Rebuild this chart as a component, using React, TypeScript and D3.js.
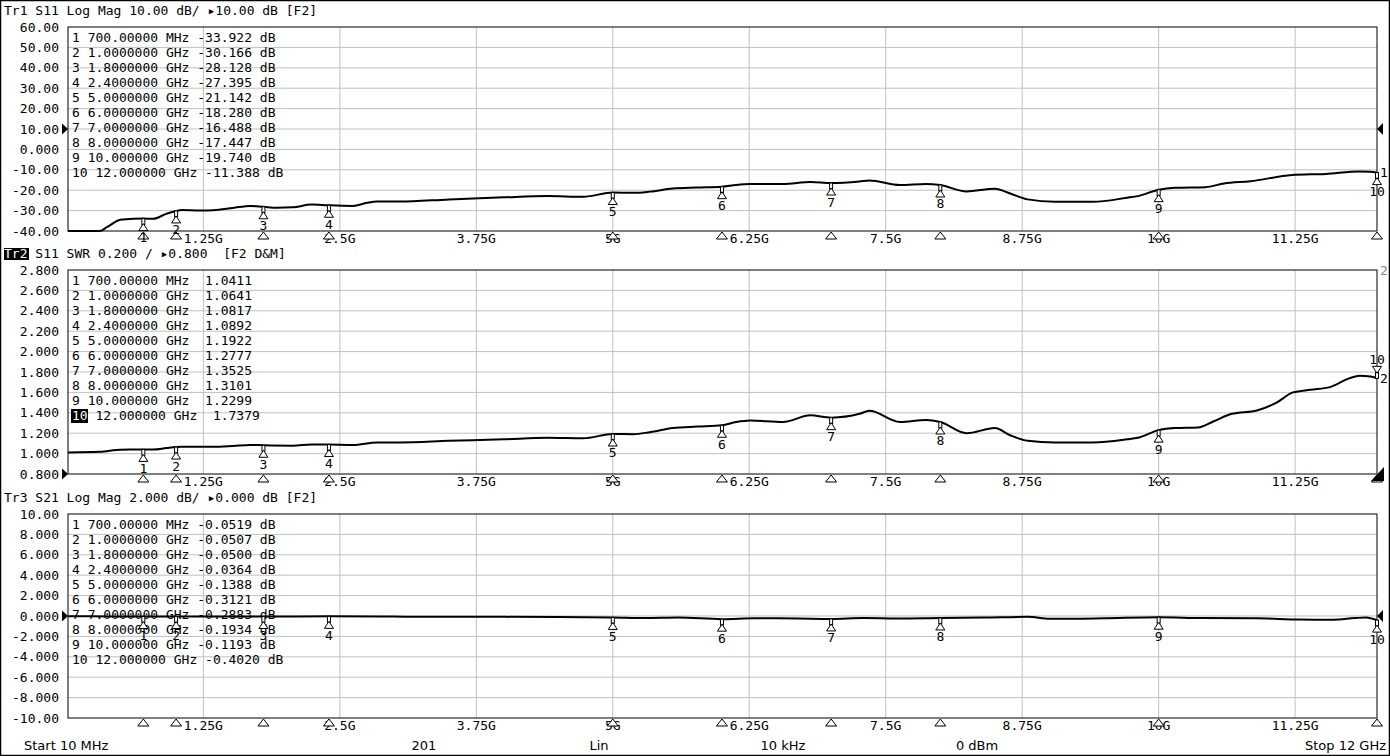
import React from 'react';
import * as d3 from 'd3';

const W = 1390;
const H = 756;
const MONO = '"DejaVu Sans Mono", monospace';
const SANS = '"DejaVu Sans", sans-serif';

// ---- axis / tick data ----
const xTickValues = [1.25, 2.5, 3.75, 5, 6.25, 7.5, 8.75, 10, 11.25];
const xTickLabels = ['1.25G', '2.5G', '3.75G', '5G', '6.25G', '7.5G', '8.75G', '10G', '11.25G'];
const tr1YLabels = ['60.00', '50.00', '40.00', '30.00', '20.00', '10.00', '0.000', '-10.00', '-20.00', '-30.00', '-40.00'];
const tr2YLabels = ['2.800', '2.600', '2.400', '2.200', '2.000', '1.800', '1.600', '1.400', '1.200', '1.000', '0.800'];
const tr3YLabels = ['10.00', '8.000', '6.000', '4.000', '2.000', '0.000', '-2.000', '-4.000', '-6.000', '-8.000', '-10.00'];

// ---- markers ----
const markerFreqGHz = [0.7, 1, 1.8, 2.4, 5, 6, 7, 8, 10, 12];
const markerFreqText = ['700.00000 MHz', '1.0000000 GHz', '1.8000000 GHz', '2.4000000 GHz', '5.0000000 GHz',
  '6.0000000 GHz', '7.0000000 GHz', '8.0000000 GHz', '10.000000 GHz', '12.000000 GHz'];
const markerS11dB = [-33.922, -30.166, -28.128, -27.395, -21.142, -18.28, -16.488, -17.447, -19.74, -11.388];
const markerSWR = [1.0411, 1.0641, 1.0817, 1.0892, 1.1922, 1.2777, 1.3525, 1.3101, 1.2299, 1.7379];
const markerS21dB = [-0.0519, -0.0507, -0.05, -0.0364, -0.1388, -0.3121, -0.2883, -0.1934, -0.1193, -0.402];

// ---- traces ----
const s11Freq = [0.01, 0.30, 0.37, 0.49, 0.61, 0.70, 0.79, 0.91, 1.00, 1.05, 1.22, 1.34, 1.52, 1.68, 1.80, 1.92, 2.07, 2.24, 2.40, 2.62,
  2.75, 2.84, 3.05, 3.50, 4.00, 4.40, 4.73, 5.00, 5.19, 5.34, 5.55, 5.77, 6.00, 6.13, 6.26, 6.56, 6.81, 7.00, 7.26, 7.35,
  7.63, 7.87, 8.00, 8.24, 8.50, 8.64, 8.80, 9.05, 9.40, 9.71, 9.81, 10.00, 10.15, 10.43, 10.60, 10.84, 11.22, 11.53, 11.84, 11.94, 12.00];
const s11dB = [-40, -40, -38, -34.5, -34, -33.92, -34, -31.6, -30.17, -29.7, -30, -29.8, -28.7, -27.7, -28.13, -28.6, -28.4, -27, -27.4, -27.7,
  -26.2, -25.6, -25.6, -24.5, -23.5, -22.9, -23.2, -21.14, -21.3, -20.7, -19.2, -18.7, -18.28, -17.4, -17, -17, -16, -16.49, -15.7, -15.2,
  -17.4, -16.9, -17.45, -20.6, -19.3, -21.6, -24.5, -25.7, -25.7, -23.7, -22.9, -19.74, -18.8, -18.5, -16.7, -15.6, -12.6, -12.0, -10.8, -10.9, -11.39];

const swrFreq = [0.01, 0.30, 0.49, 0.61, 0.70, 0.79, 0.91, 1.00, 1.05, 1.34, 1.52, 1.68, 1.80, 2.07, 2.24, 2.40, 2.62, 2.84, 3.05, 3.50,
  4.00, 4.40, 4.73, 5.00, 5.19, 5.34, 5.55, 5.77, 6.00, 6.13, 6.26, 6.56, 6.81, 7.00, 7.26, 7.35, 7.63, 7.87, 8.00, 8.24,
  8.50, 8.64, 8.80, 9.05, 9.40, 9.71, 9.81, 10.00, 10.15, 10.36, 10.50, 10.67, 10.90, 11.08, 11.23, 11.39, 11.57, 11.75, 11.84, 11.94, 12.00];
const swrValues = [1.012, 1.018, 1.038, 1.040, 1.0411, 1.040, 1.054, 1.0641, 1.067, 1.067, 1.075, 1.085, 1.0817, 1.078, 1.09, 1.0892, 1.085, 1.11, 1.11, 1.125,
  1.14, 1.155, 1.15, 1.1922, 1.19, 1.21, 1.25, 1.265, 1.2777, 1.31, 1.325, 1.31, 1.375, 1.3525, 1.39, 1.42, 1.31, 1.33, 1.3101, 1.20,
  1.25, 1.18, 1.125, 1.11, 1.11, 1.14, 1.155, 1.2299, 1.25, 1.256, 1.315, 1.39, 1.423, 1.50, 1.60, 1.626, 1.652, 1.74, 1.764, 1.757, 1.7379];

const s21Freq = [0.01, 0.40, 0.70, 1.00, 1.50, 1.80, 2.40, 3.00, 3.80, 4.50, 5.00, 5.30, 5.60, 6.00, 6.30, 6.70, 7.00, 7.30, 7.60, 8.00,
  8.40, 8.80, 9.00, 9.50, 10.00, 10.40, 10.90, 11.30, 11.60, 11.80, 11.90, 12.00];
const s21dB = [-0.02, -0.04, -0.052, -0.051, -0.045, -0.05, -0.036, -0.06, -0.08, -0.1, -0.139, -0.2, -0.15, -0.312, -0.22, -0.25, -0.288, -0.2, -0.24, -0.193,
  -0.15, -0.08, -0.28, -0.22, -0.119, -0.2, -0.22, -0.35, -0.36, -0.2, -0.15, -0.402];

const statusItems = ['Start 10 MHz', '201', 'Lin', '10 kHz', '0 dBm', 'Stop 12 GHz'];

// ---- layout ----
const PL = 68;
const PR = 1377;
const PH = 204;
const x = d3.scaleLinear().domain([0.01, 12]).range([PL, PR]);

type Panel = {
  id: string;
  top: number;
  domain: [number, number];
  yLabels: string[];
  headerRest: string;
  freq: number[];
  vals: number[];
  mVals: number[];
  legend: string[];
  refValue: number;
};

const panels: Panel[] = [
  {
    id: 'Tr1', top: 27, domain: [-40, 60], yLabels: tr1YLabels,
    headerRest: ' S11 Log Mag 10.00 dB/ \u25B810.00 dB [F2]',
    freq: s11Freq, vals: s11dB, mVals: markerS11dB,
    legend: markerS11dB.map((v, i) => `${i + 1} ${markerFreqText[i]} ${v.toFixed(3)} dB`),
    refValue: 10,
  },
  {
    id: 'Tr2', top: 270, domain: [0.8, 2.8], yLabels: tr2YLabels,
    headerRest: ' S11 SWR 0.200 / \u25B80.800  [F2 D&M]',
    freq: swrFreq, vals: swrValues, mVals: markerSWR,
    legend: markerSWR.map((v, i) => `${i + 1} ${markerFreqText[i]}  ${v.toFixed(4)}`),
    refValue: 0.8,
  },
  {
    id: 'Tr3', top: 514, domain: [-10, 10], yLabels: tr3YLabels,
    headerRest: ' S21 Log Mag 2.000 dB/ \u25B80.000 dB [F2]',
    freq: s21Freq, vals: s21dB, mVals: markerS21dB,
    legend: markerS21dB.map((v, i) => `${i + 1} ${markerFreqText[i]} ${v.toFixed(4)} dB`),
    refValue: 0,
  },
];

const GRID = '#c0c0c0';

function PanelView({ p, idx }: { p: Panel; idx: number }) {
  const bottom = p.top + PH;
  const y = d3.scaleLinear().domain(p.domain).range([bottom, p.top]);
  const yTicks = d3.range(11).map((i) => p.domain[1] - (i * (p.domain[1] - p.domain[0])) / 10);
  const line = d3
    .line<number>()
    .x((_, i) => x(p.freq[i]))
    .y((d) => y(d))
    .curve(d3.curveMonotoneX);
  const clipId = `clip-${p.id}`;
  const refY = y(p.refValue);
  const endY = y(p.vals[p.vals.length - 1]);
  return (
    <g>
      <defs>
        <clipPath id={clipId}>
          <rect x={PL} y={p.top - 1} width={PR - PL} height={PH + 2} />
        </clipPath>
      </defs>
      {/* header */}
      {idx === 1 && <rect x={4} y={p.top - 22} width={25} height={12} fill="#000" />}
      <text x={4} y={p.top - 12.5} fontFamily={MONO} fontSize={13} style={{ whiteSpace: 'pre' }}>
        <tspan fill={idx === 1 ? '#fff' : '#000'}>{p.id}</tspan>
        <tspan fill="#000">{p.headerRest}</tspan>
      </text>
      {/* grid */}
      {yTicks.slice(1, 10).map((t, i) => (
        <line key={'h' + i} x1={PL} x2={PR} y1={y(t)} y2={y(t)} stroke={GRID} strokeWidth={1} />
      ))}
      {xTickValues.map((t, i) => (
        <line key={'v' + i} x1={x(t)} x2={x(t)} y1={p.top} y2={bottom} stroke={GRID} strokeWidth={1} />
      ))}
      <rect x={PL} y={p.top} width={PR - PL} height={PH} fill="none" stroke="#000" strokeWidth={1} />
      {/* y labels */}
      {p.yLabels.map((l, i) => (
        <text key={'yl' + i} x={59} y={y(yTicks[i]) + 4.5} textAnchor="end" fontFamily={MONO} fontSize={13} fill="#000">
          {l}
        </text>
      ))}
      {/* x labels */}
      {xTickLabels.map((l, i) => (
        <text key={'xl' + i} x={x(xTickValues[i])} y={bottom + 12} textAnchor="middle" fontFamily={MONO} fontSize={13} fill="#000">
          {l}
        </text>
      ))}
      {/* legend */}
      {p.legend.map((s, i) => {
        const by = p.top + 15 + i * 15;
        const hl = idx === 1 && i === 9;
        if (hl) {
          const rest = s.slice(2);
          return (
            <g key={'lg' + i}>
              <rect x={71} y={by - 11} width={17} height={14} fill="#000" />
              <text x={72} y={by} fontFamily={MONO} fontSize={13} style={{ whiteSpace: 'pre' }}>
                <tspan fill="#fff">10</tspan>
                <tspan fill="#000">{rest}</tspan>
              </text>
            </g>
          );
        }
        return (
          <text key={'lg' + i} x={72} y={by} fontFamily={MONO} fontSize={13} fill="#000" style={{ whiteSpace: 'pre' }}>
            {s}
          </text>
        );
      })}
      {/* trace */}
      <path d={line(p.vals) || ''} fill="none" stroke="#000" strokeWidth={2} clipPath={`url(#${clipId})`} />
      {/* bottom marker triangles */}
      {markerFreqGHz.map((f, i) => {
        const mx = x(f);
        return (
          <path key={'bt' + i} d={`M${mx},${bottom + 1}L${mx + 5.5},${bottom + 8}L${mx - 5.5},${bottom + 8}Z`}
            fill="#fff" stroke="#000" strokeWidth={1} />
        );
      })}
      {/* markers on trace */}
      {markerFreqGHz.map((f, i) => {
        const mx = x(f);
        const my = y(p.mVals[i]);
        const up = idx === 1 && i === 9;
        if (up) {
          return (
            <g key={'mk' + i}>
              <rect x={mx - 1.5} y={my - 6} width={3} height={6} fill="#fff" stroke="#000" strokeWidth={1} />
              <path d={`M${mx},${my - 5}L${mx + 4.5},${my - 12}L${mx - 4.5},${my - 12}Z`} fill="#fff" stroke="#000" strokeWidth={1} />
              <text x={mx} y={my - 14.5} textAnchor="middle" fontFamily={MONO} fontSize={13} fill="#000">{i + 1}</text>
            </g>
          );
        }
        return (
          <g key={'mk' + i}>
            <rect x={mx - 1.5} y={my} width={3} height={6} fill="#fff" stroke="#000" strokeWidth={1} />
            <path d={`M${mx},${my + 5}L${mx + 4.5},${my + 12}L${mx - 4.5},${my + 12}Z`} fill="#fff" stroke="#000" strokeWidth={1} />
            <text x={mx} y={my + 23.5} textAnchor="middle" fontFamily={MONO} fontSize={13} fill="#000">{i + 1}</text>
          </g>
        );
      })}
      {/* reference level arrows */}
      <path d={`M${PL - 6},${refY - 5.5}L${PL},${refY}L${PL - 6},${refY + 5.5}Z`} fill="#000" />
      {idx === 1 ? (
        <path d={`M${PR + 7},${bottom - 7}L${PR + 7},${bottom + 7}L${PR - 6},${bottom + 7}Z`} fill="#000" />
      ) : (
        <path d={`M${PR + 6},${refY - 6}L${PR},${refY}L${PR + 6},${refY + 6}Z`} fill="#000" />
      )}
      {/* trace ids at right */}
      {idx === 0 && (
        <text x={1380} y={endY + 4.5} fontFamily={MONO} fontSize={13} fill="#000">1</text>
      )}
      {idx === 1 && (
        <>
          <text x={1380} y={endY + 4.5} fontFamily={MONO} fontSize={13} fill="#000">2</text>
          <text x={1380} y={p.top + 4.5} fontFamily={MONO} fontSize={13} fill="#888">2</text>
        </>
      )}
    </g>
  );
}

export default function App() {
  const statusX = [24, 424, 599, 783, 977, 1386];
  const statusAnchor = ['start', 'middle', 'middle', 'middle', 'middle', 'end'];
  return (
    <svg width={W} height={H} viewBox={`0 0 ${W} ${H}`}
      style={{ position: 'absolute', left: 0, top: 0, display: 'block', background: '#fff' }}>
      <rect x={0} y={0} width={W} height={H} fill="#fff" />
      {panels.map((p, i) => (
        <PanelView key={p.id} p={p} idx={i} />
      ))}
      {statusItems.map((s, i) => (
        <text key={'st' + i} x={statusX[i]} y={750} textAnchor={statusAnchor[i] as any} fontFamily={SANS} fontSize={13} fill="#000">
          {s}
        </text>
      ))}
      <rect x={0.5} y={0.5} width={W - 1} height={H - 1} fill="none" stroke="#000" strokeWidth={1.5} />
    </svg>
  );
}
